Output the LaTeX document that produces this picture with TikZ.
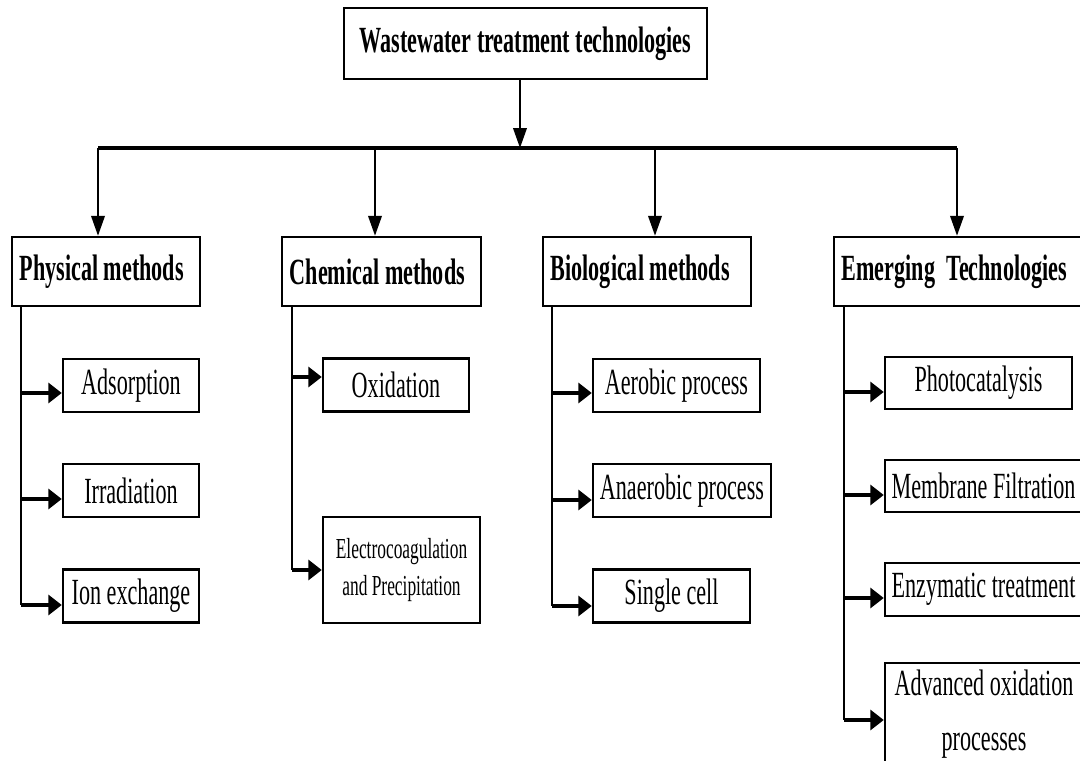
\documentclass[tikz,border=0pt]{standalone}
\usepackage{fontspec}
\setmainfont{Liberation Serif}[FakeStretch=0.6]
\usetikzlibrary{arrows.meta}
\tikzset{
  box/.style={draw, line width=1.4pt, inner sep=0pt, align=center, minimum height=1.06cm, font=\fontsize{21}{25}\selectfont},
  head/.style={draw, line width=1.4pt, anchor=west, inner xsep=0.15cm, inner ysep=0pt, align=flush left, minimum height=1.38cm, font=\fontsize{21}{25}\selectfont\bfseries},
  down/.style={-{Triangle[length=0.4cm,width=0.27cm]}, line width=1.3pt},
  side/.style={-{Triangle[length=0.27cm,width=0.4cm]}, line width=2pt},
  trunk/.style={line width=1.6pt},
  bar/.style={line width=2.3pt}
}
\begin{document}
\begin{tikzpicture}[x=0.02cm,y=-0.02cm]
  \clip (0,0) rectangle (1080,761);
  \node[box, minimum width=7.26cm, minimum height=1.42cm, font=\fontsize{21}{25}\selectfont\bfseries] (top) at (525.5,43.5) {Wastewater treatment technologies};

  \node[head, text width=3.46cm] (phys) at (11,271.5) {Physical methods};
  \node[head, text width=3.68cm] (chem) at (281,271.5) {Chemical methods};
  \node[head, text width=3.86cm] (bio) at (542,271.5) {Biological methods};
  \node[head, text width=4.9cm] (emer) at (833,271.5) {Emerging\ \ Technologies};

  \coordinate (hub) at (520,148);
  \draw[down] (top.south -| hub) -- (hub);
  \foreach \n/\x in {phys/98, chem/375, bio/655, emer/957}{
    \coordinate (b-\n) at (\x,148);
    \draw[down] (b-\n) -- (b-\n |- \n.north);
  }
  \draw[bar] (b-phys) -- (b-emer);

  \node[box, minimum width=2.72cm] (ads) at (131,385.5) {Adsorption};
  \node[box, minimum width=2.72cm] (irr) at (131,490.5) {Irradiation};
  \node[box, minimum width=2.72cm] (ion) at (131,596) {Ion exchange};

  \node[box, minimum width=2.92cm] (oxi) at (396,385) {Oxidation};
  \node[box, minimum width=3.14cm, minimum height=2.12cm, font=\fontsize{16.5}{21}\selectfont] (elec) at (401.5,570) {Electrocoagulation\\and Precipitation};

  \node[box, minimum width=3.34cm] (aer) at (676.5,385.5) {Aerobic process};
  \node[box, minimum width=3.56cm] (ana) at (682,490.5) {Anaerobic process};
  \node[box, minimum width=3.14cm] (sgl) at (671.5,596) {Single cell};

  \node[box, minimum width=3.74cm, minimum height=1.04cm] (pho) at (978.5,383) {Photocatalysis};
  \node[box, minimum width=3.94cm, minimum height=1.04cm] (mem) at (983.5,486) {Membrane Filtration};
  \node[box, minimum width=3.94cm] (enz) at (983.5,589.5) {Enzymatic treatment};
  \node[box, minimum width=3.96cm, minimum height=2.04cm, font=\fontsize{21}{31}\selectfont] (aop) at (984,714) {Advanced oxidation\\processes};

  \coordinate (t-phys) at (21,605);
  \coordinate (t-chem) at (292,570);
  \coordinate (t-bio) at (552,606);
  \coordinate (t-emer) at (844,720);
  \foreach \n in {phys, chem, bio, emer}
    \draw[trunk] (\n.south -| t-\n) -- (t-\n);

  \foreach \c/\t/\d in {ads/phys/-1.5mm, irr/phys/-1.7mm, ion/phys/-1.8mm, oxi/chem/1.6mm, elec/chem/0mm, aer/bio/-1.5mm, ana/bio/-1.9mm, sgl/bio/-2mm, pho/emer/-1.8mm, mem/emer/-1.8mm, enz/emer/-1.7mm, aop/emer/-1.2mm}{
    \path ([yshift=\d]\c.west) coordinate (e);
    \draw[side] (e -| t-\t) -- (e);
  }
\end{tikzpicture}
\end{document}
